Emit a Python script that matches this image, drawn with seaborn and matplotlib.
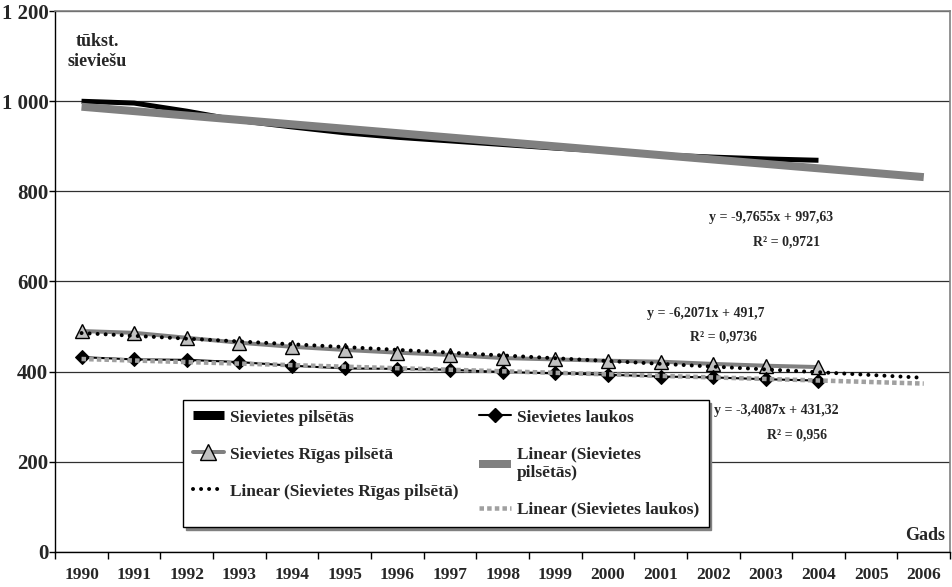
import numpy as np
import pandas as pd
import matplotlib
matplotlib.use("Agg")
import matplotlib.pyplot as plt
from matplotlib.lines import Line2D
import seaborn as sns

# data
YEARS = [str(y) for y in range(1990, 2007)]
URBAN = [1000, 996, 978, 957, 943, 930, 920, 912, 904, 896, 889, 881, 876, 872, 869]
RIGA = [490, 486, 475, 464, 455, 448, 442, 437, 430, 427, 424, 422, 417, 413, 410]
RURAL = [432, 427, 426, 421, 413, 407, 406, 404, 399, 396, 393, 389, 387, 383, 380]

# linear trend equations printed on the chart (x = 1 .. 17)
TREND_SLOPE = [-9.7655, -6.2071, -3.4087]
TREND_ICPT = [997.63, 491.7, 431.32]
TREND_R2 = ["0,9721", "0,9736", "0,956"]

Y_TICKS = [0, 200, 400, 600, 800, 1000, 1200]
Y_LABELS = ["0", "200", "400", "600", "800", "1 000", "1 200"]

sns.set_theme(style="white")
plt.rcParams["font.family"] = ["Liberation Serif", "DejaVu Serif"]
plt.rcParams["font.weight"] = "bold"

n_obs = len(URBAN)
pos = np.arange(n_obs)
df = pd.DataFrame({"pos": pos, "urban": URBAN, "riga": RIGA, "rural": RURAL})

xt = np.arange(1, len(YEARS) + 1)
trend = pd.DataFrame({"pos": xt - 1})
for name, k, b in zip(["urban", "riga", "rural"], TREND_SLOPE, TREND_ICPT):
    trend[name] = k * xt + b

fig = plt.figure(figsize=(9.52, 5.87), dpi=100)
ax = fig.add_axes([0.058, 0.06, 0.94, 0.921])

PX = 72 / 100  # pixels -> points

# urban
sns.lineplot(data=df, x="pos", y="urban", ax=ax, color="black", lw=5 * PX,
             solid_capstyle="butt")
sns.lineplot(data=trend, x="pos", y="urban", ax=ax, color="#808080", lw=8 * PX,
             solid_capstyle="butt")

# riga
sns.lineplot(data=df, x="pos", y="riga", ax=ax, color="#808080", lw=4 * PX,
             marker="^", markersize=10, markerfacecolor="#c0c0c0",
             markeredgecolor="black", markeredgewidth=1)
sns.lineplot(data=trend, x="pos", y="riga", ax=ax, color="black", lw=4 * PX,
             linestyle=(0, (0.01, 2.0)), dash_capstyle="round")

# rural
sns.lineplot(data=df, x="pos", y="rural", ax=ax, color="black", lw=1.5,
             marker="D", markersize=7, markerfacecolor="black",
             markeredgecolor="black")
sns.lineplot(data=trend, x="pos", y="rural", ax=ax, color="#a0a0a0", lw=4.5 * PX,
             linestyle=(0, (1, 0.7)), dash_capstyle="butt")

# axes
ax.set_xlim(-0.5, len(YEARS) - 0.5)
ax.set_ylim(0, 1200)
ax.set_xlabel("")
ax.set_ylabel("")
ax.set_yticks(Y_TICKS)
ax.set_yticklabels(Y_LABELS, fontsize=15, fontweight="bold")
ax.set_xticks(np.arange(len(YEARS) + 1) - 0.5)
ax.set_xticklabels([])
ax.set_xticks(np.arange(len(YEARS)), minor=True)
ax.set_xticklabels(YEARS, minor=True, fontsize=12.5, fontweight="bold")
ax.tick_params(axis="x", which="major", direction="out", length=5, width=1,
               color="black", bottom=True)
ax.tick_params(axis="x", which="minor", length=0, pad=11, bottom=True)
ax.tick_params(axis="y", direction="out", length=4, width=1, color="black",
               left=True, pad=1)
ax.grid(axis="y", color="#303030", lw=0.9)
ax.set_axisbelow(True)
for side in ["left", "bottom"]:
    ax.spines[side].set_color("black")
    ax.spines[side].set_linewidth(1)
for side in ["top", "right"]:
    ax.spines[side].set_color("#808080")
    ax.spines[side].set_linewidth(1.2)

# equation labels
eq_pos = [((13.1, 743), (13.4, 688)), ((11.85, 530), (12.2, 477)),
          ((13.2, 313), (13.6, 260))]
for k, b, r2, (p1, p2) in zip(TREND_SLOPE, TREND_ICPT, TREND_R2, eq_pos):
    ks = f"{k:.4f}".replace(".", ",")
    bs = f"{b:g}".replace(".", ",")
    ax.text(*p1, f"y = {ks}x + {bs}", ha="center", va="center", fontsize=10,
            fontweight="bold")
    ax.text(*p2, f"R² = {r2}", ha="center", va="center", fontsize=10,
            fontweight="bold")

ax.text(0.047, 0.925, "tūkst.\nsieviešu", transform=ax.transAxes, ha="center",
        va="center", fontsize=13, fontweight="bold", linespacing=1.2)
ax.text(0.995, 0.03, "Gads", transform=ax.transAxes, ha="right", va="center",
        fontsize=13, fontweight="bold")

# legend
handles = [
    Line2D([], [], color="black", lw=9 * PX, solid_capstyle="butt"),
    Line2D([], [], color="#808080", lw=4 * PX, marker="^", markersize=12,
           markerfacecolor="#c0c0c0", markeredgecolor="black"),
    Line2D([], [], color="black", lw=4 * PX, linestyle=(0, (0.01, 2.0)),
           dash_capstyle="round"),
    Line2D([], [], color="black", lw=1.5, marker="D", markersize=7),
    Line2D([], [], color="#808080", lw=8 * PX, solid_capstyle="butt"),
    Line2D([], [], color="#a0a0a0", lw=4.5 * PX, linestyle=(0, (1, 0.7))),
]
labels = ["Sievietes pilsētās", "Sievietes Rīgas pilsētā",
          "Linear (Sievietes Rīgas pilsētā)", "Sievietes laukos",
          "Linear (Sievietes\npilsētās)", "Linear (Sievietes laukos)"]
leg = ax.legend(handles, labels, ncol=2, loc="upper left",
                bbox_to_anchor=(0.143, 0.281), borderaxespad=0,
                frameon=True, fancybox=False,
                shadow={"ox": 2, "oy": -2, "color": "#808080", "alpha": 1},
                edgecolor="black", framealpha=1, borderpad=0.55,
                handlelength=1.8, handletextpad=0.35, columnspacing=1.2,
                labelspacing=1.2, prop={"size": 12.5, "weight": "bold"})
leg.get_frame().set_linewidth(1)

fig.savefig("out.png", dpi=100)
